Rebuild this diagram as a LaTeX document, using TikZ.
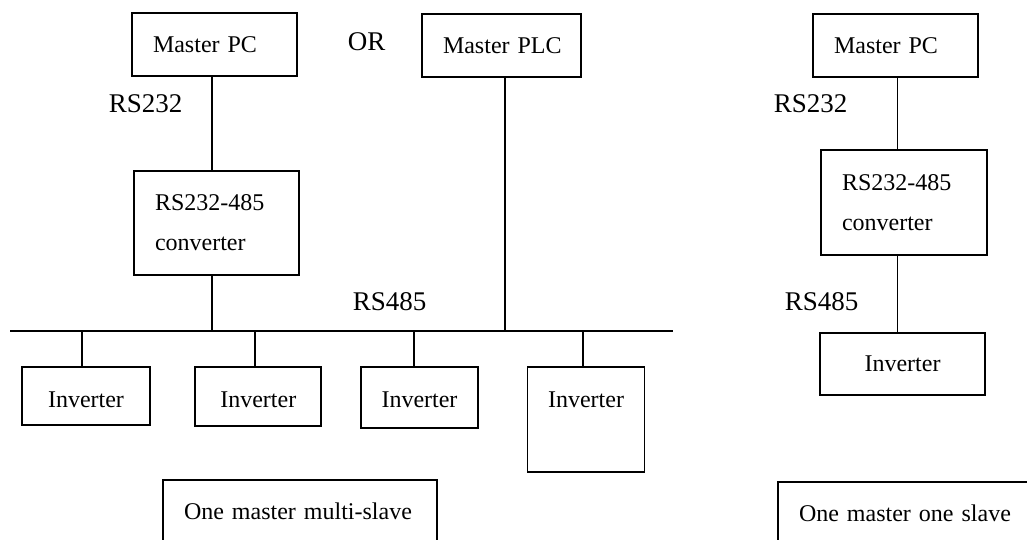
\documentclass[tikz,border=0pt]{standalone}
\usepackage{fontspec}
\setmainfont{Liberation Serif}
\begin{document}
\begin{tikzpicture}[x=1pt,y=-1pt, line width=1.8pt,
  box/.style={draw, rectangle, line width=1.8pt, inner ysep=0pt, font=\fontsize{24}{40}\selectfont},
  lbox/.style={box, align=left, inner xsep=21pt},
  cbox/.style={box, align=center, inner xsep=0pt},
  lab/.style={anchor=base west, inner sep=0pt, font=\fontsize{27}{32}\selectfont}]
\clip (0,0) rectangle (1027,540);
% left system
\node[lbox, text width=123pt, minimum height=63pt] (mpc) at (214.5,44.5) {\mbox{Master PC}};
\node[lbox, text width=117pt, minimum height=63pt] (plc) at (501.5,45.5) {\mbox{Master PLC}};
\node[lbox, text width=123pt, minimum height=104pt] (conv) at (216.5,223) {\mbox{RS232-485}\\\mbox{converter}};
\node[cbox, minimum width=128pt, minimum height=58pt, text height=22pt, text depth=0pt] (inv1) at (86,396) {Inverter};
\node[cbox, minimum width=126pt, minimum height=59pt, text height=21pt, text depth=0pt] (inv2) at (258.3,396.5) {Inverter};
\node[cbox, minimum width=117pt, minimum height=61pt, text height=19pt, text depth=0pt] (inv3) at (419.5,397.5) {Inverter};
\node[cbox, minimum width=117pt, minimum height=105pt, text height=16pt, text depth=41pt] (inv4) at (586,419.5) {Inverter};
\node[lbox, text width=232pt, minimum height=63pt] (multi) at (300,511.5) {\mbox{One master multi-slave}};
\node[lab] (or) at (347,51) {OR};
\node[lab] (rs232a) at (108,113) {RS232};
\node[lab] (rs485a) at (352,310) {RS485};
\coordinate (busL) at (10,331);
\coordinate (busR) at (673,331);
\coordinate (j1) at (212,331);
\coordinate (j2) at (505,331);
\coordinate (d1) at (82,331);
\coordinate (d2) at (255,331);
\coordinate (d3) at (414,331);
\coordinate (d4) at (583,331);
\draw (busL) -- (busR);
\draw (mpc.south -| j1) -- (conv.north -| j1);
\draw (conv.south -| j1) -- (j1);
\draw (plc.south -| j2) -- (j2);
\draw (d1) -- (inv1.north -| d1);
\draw (d2) -- (inv2.north -| d2);
\draw (d3) -- (inv3.north -| d3);
\draw (d4) -- (inv4.north -| d4);
% right system
\node[lbox, text width=123pt, minimum height=63pt] (mpc2) at (895.5,45.5) {\mbox{Master PC}};
\node[lbox, text width=124pt, minimum height=105pt] (conv2) at (904,202.5) {\mbox{RS232-485}\\\mbox{converter}};
\node[cbox, minimum width=165pt, minimum height=62pt] (inv5) at (902.5,364) {Inverter};
\node[lbox, text width=220pt, minimum height=63pt] (single) at (909,513.5) {\mbox{One master one slave}};
\node[lab] (rs232b) at (773,113) {RS232};
\node[lab] (rs485b) at (784,310) {RS485};
\coordinate (r) at (897.5,0);
\draw (mpc2.south -| r) -- (conv2.north -| r);
\draw (conv2.south -| r) -- (inv5.north -| r);
\end{tikzpicture}
\end{document}
